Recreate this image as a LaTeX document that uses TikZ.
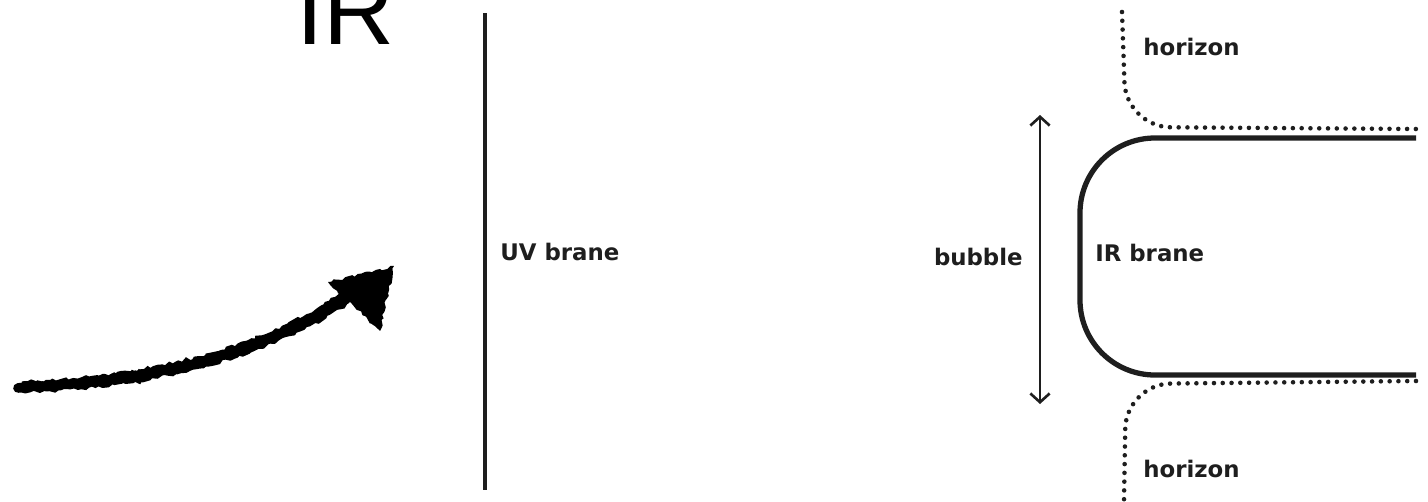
\documentclass[tikz,border=0pt]{standalone}
\usepackage{fontspec}
\setmainfont{DejaVu Sans}
\newfontfamily\bigfont{Liberation Sans}
\usepackage{tikz}
\usetikzlibrary{arrows.meta, positioning, decorations.pathmorphing}
\definecolor{inkgray}{HTML}{1E1E1E}

\begin{document}
\begin{tikzpicture}[
    x=0.02cm, y=-0.02cm,
    lbl/.style={font=\fontsize{13}{15}\selectfont\bfseries, text=inkgray, inner sep=0pt, anchor=west},
    brane/.style={line width=#1, inkgray},
    horizonline/.style={line width=2.6pt, line cap=round, dash pattern=on 0pt off 5pt, inkgray},
    sketch/.style={decorate, decoration={random steps, segment length=2pt, amplitude=0.9pt}},
]
    \useasboundingbox (0,0) rectangle (1428,501);
    \pgfmathsetseed{7}

    % Big label (cut at the top)
    \node[font=\bigfont\fontsize{56}{60}\selectfont, anchor=base west, inner sep=0pt] (irbig) at (296,44) {IR};

    % Hand drawn arrow
    \coordinate (arrstart) at (18,388);
    \coordinate (arrend) at (352,296);
    \draw[sketch, line width=5.5pt, line cap=round] (arrstart) .. controls (170,384) and (280,345) .. (arrend);
    \draw[sketch, line width=3pt] (22,384) .. controls (170,379) and (280,341) .. (348,291);
    \fill[sketch] (328,282) -- (394,266) -- (380,331) -- cycle;

    % UV brane
    \coordinate (uvtop) at (485,13);
    \coordinate (uvbot) at (485,490);
    \draw[brane=2.4pt] (uvtop) -- (uvbot);
    \node[lbl] (uvlabel) at (500,252) {UV brane};

    % Bubble size
    \coordinate (bubtop) at (1040,115);
    \coordinate (bubbot) at (1040,404);
    \draw[{Straight Barb[length=5pt, width=11pt]}-{Straight Barb[length=5pt, width=11pt]}, line width=1.5pt, inkgray] (bubtop) -- (bubbot);
    \node[lbl, anchor=east] (bublabel) at (1023,257) {bubble};

    % IR brane
    \coordinate (irtop) at (1416,138);
    \coordinate (irbot) at (1416,375);
    \draw[brane=3pt, rounded corners=1.5cm] (irtop) -- (1080,138) -- (1080,375) -- (irbot);
    \node[lbl] (irlabel) at (1095,253) {IR brane};

    % Horizons
    \coordinate (hortop) at (1122,12);
    \coordinate (horbot) at (1124,501);
    \draw[horizonline, rounded corners=0.9cm] (hortop) -- (1126,127) -- (1416,129);
    \draw[horizonline, rounded corners=0.9cm] (1416,381) -- (1126,384) -- (horbot);
    \node[lbl] (hortoplabel) at (1143,47) {horizon};
    \node[lbl] (horbotlabel) at (1143,469) {horizon};
\end{tikzpicture}
\end{document}
